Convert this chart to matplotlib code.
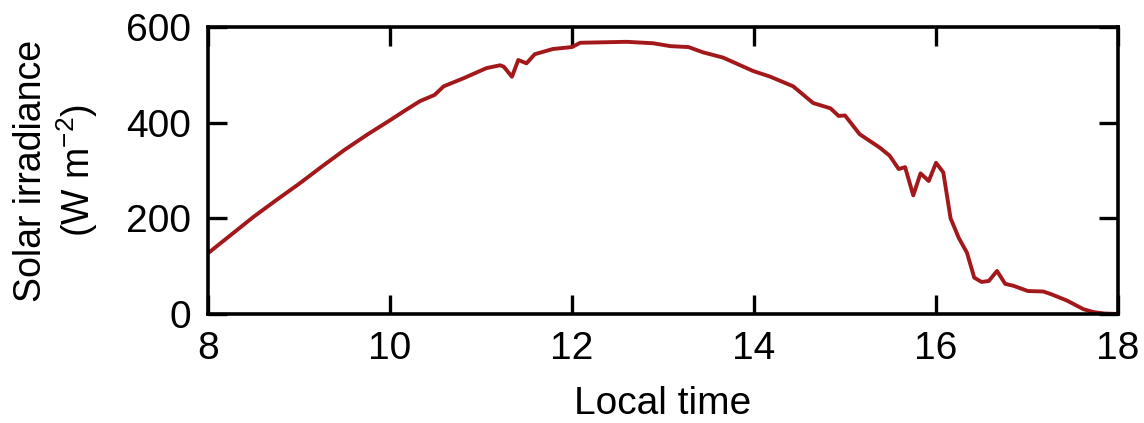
import numpy as np
import matplotlib.pyplot as plt

plt.rcParams['font.family'] = ['Liberation Sans', 'DejaVu Sans']
plt.rcParams['mathtext.fontset'] = 'custom'
plt.rcParams['mathtext.rm'] = 'Liberation Sans'

# local time (h) and solar irradiance (W m-2)
hours = [8.0, 8.25, 8.5, 8.75, 9.0, 9.25, 9.5, 9.75, 10.0, 10.17, 10.33,
         10.49, 10.59, 10.81, 11.06, 11.21, 11.25, 11.34, 11.41, 11.5, 11.59,
         11.79, 12.0, 12.09, 12.6, 12.89, 13.08, 13.28, 13.44, 13.66, 13.99,
         14.18, 14.43, 14.65, 14.84, 14.93, 15.0, 15.16, 15.38, 15.49, 15.59,
         15.66, 15.75, 15.83, 15.92, 16.0, 16.08, 16.16, 16.25, 16.34, 16.42,
         16.5, 16.58, 16.67, 16.76, 16.85, 17.01, 17.18, 17.27, 17.44, 17.62,
         17.73, 17.85, 18.0]
irradiance = [127, 165, 203, 238, 272, 308, 343, 375, 405, 426, 445,
              458, 476, 493, 514, 520, 517, 496, 531, 524, 543,
              554, 558, 567, 569, 566, 560, 558, 547, 536, 508,
              496, 476, 441, 430, 414, 415, 376, 348, 331, 303,
              307, 248, 294, 278, 316, 296, 200, 159, 128, 76,
              67, 69, 90, 63, 59, 48, 47, 41, 28, 10,
              4, 1, 0]

xticks = [8, 10, 12, 14, 16, 18]
yticks = [0, 200, 400, 600]

fig = plt.figure(figsize=(11.44, 4.23), dpi=100)
ax = fig.add_axes([0.1818, 0.2577, 0.7955, 0.6785])
ax.plot(hours, irradiance, color='#A3181A', lw=2.8, solid_joinstyle='round')

ax.set_xlim(8, 18)
ax.set_ylim(0, 600)
ax.set_xticks(xticks)
ax.set_yticks(yticks)
ax.tick_params(direction='in', length=14, width=2.4, labelsize=28, pad=12,
               top=True, right=True)
for s in ax.spines.values():
    s.set_linewidth(2.6)

ax.set_xlabel('Local time', fontsize=28, labelpad=14)
ax.set_ylabel('Solar irradiance\n(W m$^{-2}$)', fontsize=27, labelpad=19,
              linespacing=1.15)

fig.savefig('out.png', dpi=100)
